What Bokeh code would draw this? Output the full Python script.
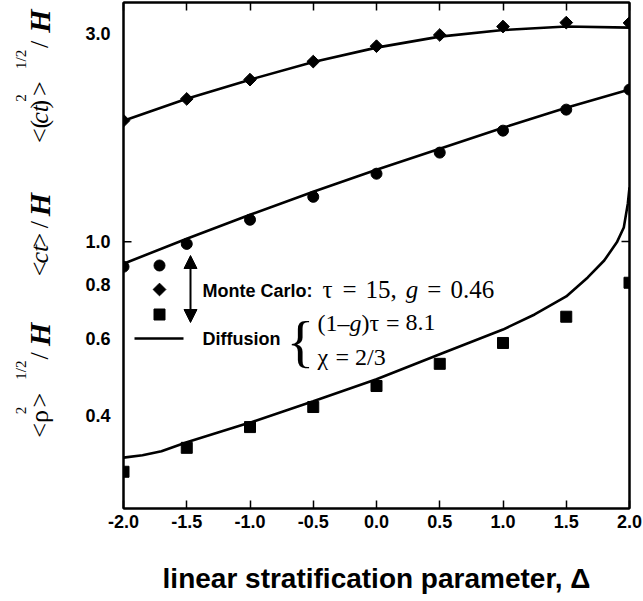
import math
from bokeh.plotting import figure
from bokeh.layouts import row
from bokeh.models import (Range1d, FixedTicker, LinearAxis, LogAxis, Label,
                          Arrow, NormalHead)
from bokeh.core.properties import value
from bokeh.embed import file_html
from bokeh.resources import INLINE

# ---------------- data ----------------
delta = [-2.0, -1.5, -1.0, -0.5, 0.0, 0.5, 1.0, 1.5, 2.0]
# Monte Carlo points
mc_ct2 = [1.892, 2.121, 2.348, 2.582, 2.80, 2.97, 3.105, 3.17, 3.165]
mc_ct = [0.877, 0.989, 1.123, 1.267, 1.431, 1.599, 1.795, 2.005, 2.228]
mc_rho = [0.298, 0.338, 0.377, 0.419, 0.468, 0.526, 0.587, 0.674, 0.806]
# Diffusion curves
diff_ct2 = [1.892, 2.124, 2.348, 2.575, 2.779, 2.945, 3.048, 3.105, 3.088]
diff_ct = [0.891, 1.016, 1.153, 1.301, 1.461, 1.632, 1.823, 2.026, 2.228]
diff_rho_x = [-2.0, -1.85, -1.7, -1.5, -1.0, -0.5, 0.0, 0.5, 1.0, 1.25, 1.5,
              1.67, 1.8, 1.9, 1.955, 1.987, 2.0]
diff_rho = [0.321, 0.325, 0.332, 0.348, 0.386, 0.432, 0.485, 0.553, 0.630,
            0.682, 0.750, 0.829, 0.906, 0.997, 1.078, 1.224, 1.331]

x_ticks = [-2.0, -1.5, -1.0, -0.5, 0.0, 0.5, 1.0, 1.5, 2.0]
x_tick_labels = ["-2.0", "-1.5", "-1.0", "-0.5", "0.0", "0.5", "1.0", "1.5", "2.0"]
y_ticks = [0.4, 0.6, 0.8, 1.0, 3.0]
y_tick_labels = ["0.4", "0.6", "0.8", "1.0", "3.0"]
x_title = "linear stratification parameter, \u0394"

# ---------------- geometry ----------------
W, H = 643, 601
SIDE = 60                      # width of the strip holding the y titles
FL, FR, FT, FB = 123, 629, 2, 508
X0, X1 = -2.0, 2.0
Y0, Y1 = 0.2456, 3.524
LY0, LY1 = math.log10(Y0), math.log10(Y1)


def X(px):
    return X0 + (px - FL) / (FR - FL) * (X1 - X0)


def Y(py):
    return 10 ** (LY1 - (py - FT) / (FB - FT) * (LY1 - LY0))


p = figure(width=W - SIDE, height=H, x_range=Range1d(X0, X1),
           y_range=Range1d(Y0, Y1), y_axis_type="log", output_backend="svg",
           toolbar_location=None, min_border_left=FL - SIDE,
           min_border_right=W - FR, min_border_top=FT,
           min_border_bottom=H - FB)
p.grid.visible = False
p.outline_line_color = "black"
p.outline_line_width = 2
p.background_fill_color = "white"
p.border_fill_color = "white"

TICK_FONT = "Liberation Sans"

xa = p.xaxis[0]
xa.ticker = FixedTicker(ticks=x_ticks, minor_ticks=[])
xa.major_label_overrides = {t: l for t, l in zip(x_ticks, x_tick_labels)}
xa.major_tick_in = 8
xa.major_tick_out = 0
xa.major_tick_line_width = 1.5
xa.axis_line_width = 2
xa.major_label_standoff = 6
xa.major_label_text_font = TICK_FONT
xa.major_label_text_font_style = "bold"
xa.major_label_text_font_size = "18px"
xa.major_label_text_color = "black"
xa.axis_label = x_title
xa.axis_label_text_font = TICK_FONT
xa.axis_label_text_font_style = "bold"
xa.axis_label_text_font_size = "28px"
xa.axis_label_standoff = 32
xa.axis_label_text_color = "black"

ya = p.yaxis[0]
ya.ticker = FixedTicker(ticks=y_ticks, minor_ticks=[])
ya.major_label_overrides = {t: l for t, l in zip(y_ticks, y_tick_labels)}
ya.major_tick_in = 0
ya.major_tick_out = 0
ya.axis_line_width = 2
ya.major_label_standoff = 13
ya.major_label_text_font = TICK_FONT
ya.major_label_text_font_style = "bold"
ya.major_label_text_font_size = "18px"
ya.major_label_text_color = "black"

top = LinearAxis(ticker=FixedTicker(ticks=x_ticks, minor_ticks=[]),
                 major_tick_in=8, major_tick_out=0, major_tick_line_width=1.5,
                 axis_line_width=2, major_label_text_font_size="1px",
                 major_label_text_alpha=0, major_label_standoff=0)
p.add_layout(top, "above")
right = LogAxis(ticker=FixedTicker(ticks=[1.0], minor_ticks=[]),
                major_tick_in=8, major_tick_out=0, major_tick_line_width=1.5,
                axis_line_width=2, major_label_text_font_size="1px",
                major_label_text_alpha=0, major_label_standoff=0)
p.add_layout(right, "right")
# inward tick at 1.0 on the left frame
p.segment(x0=[X(FL)], x1=[X(FL + 8)], y0=[1.0], y1=[1.0], line_color="black",
          line_width=1.5)

# ---------------- data marks ----------------
LW = 2.6
p.line(delta, diff_ct2, line_color="black", line_width=LW)
p.line(delta, diff_ct, line_color="black", line_width=LW)
p.line(diff_rho_x, diff_rho, line_color="black", line_width=LW)
p.scatter(delta, mc_ct2, marker="square", angle=math.pi / 4, size=9,
          color="black")
p.scatter(delta, mc_ct, marker="circle", size=11, color="black")
p.scatter(delta, mc_rho, marker="square", size=11, color="black")

# ---------------- legend (drawn) ----------------
p.scatter([X(159)], [Y(265)], marker="circle", size=11, color="black")
p.scatter([X(159)], [Y(289)], marker="square", angle=math.pi / 4, size=9,
          color="black")
p.scatter([X(159)], [Y(314)], marker="square", size=11, color="black")
p.line([X(134), X(183)], [Y(338), Y(338)], line_color="black", line_width=LW)
p.add_layout(Arrow(start=NormalHead(size=13, fill_color="black", line_color="black"),
                   end=NormalHead(size=13, fill_color="black", line_color="black"),
                   x_start=X(190), y_start=Y(322), x_end=X(190), y_end=Y(255),
                   line_color="black", line_width=2))

SERIF = "Liberation Serif"
EM = {'τ': 0.44, ' ': 0.25, '=': 0.564, '1': 0.5, '5': 0.5, ',': 0.25,
      'g': 0.5, '0': 0.5, '.': 0.25, '4': 0.5, '6': 0.5, '(': 0.333,
      ')': 0.333, '–': 0.5, '8': 0.5, 'χ': 0.5, '2': 0.5, '/': 0.278,
      '3': 0.5}


def tw(s, size, space=0.25):
    return sum((space if c == ' ' else EM.get(c, 0.5)) for c in s) * size


def hlabel(text, px, py, size, font=SERIF, style="normal"):
    p.add_layout(Label(x=X(px), y=Y(py), text=text, text_font=font,
                       text_font_size=f"{size}px", text_font_style=style,
                       text_align="left", text_baseline="middle",
                       text_color="black"))


def hrun(parts, px, py, size, space=0.25):
    for text, style in parts:
        for i, chunk in enumerate(text.split(" ")):
            if i > 0:
                px += space * size
            if chunk:
                hlabel(chunk, px, py, size, style=style)
                px += tw(chunk, size)


hlabel("Monte Carlo:", 202, 290, 18, font=TICK_FONT, style="bold")
hlabel("Diffusion", 202, 338, 18, font=TICK_FONT, style="bold")
hrun([("τ = 15, ", "normal"), ("g", "italic"), (" = 0.46", "normal")],
     322, 289, 25, space=0.36)
hrun([("(1–", "normal"), ("g", "italic"), (")τ = 8.1", "normal")], 317, 322, 24)
hrun([("χ = 2/3", "normal")], 317, 356, 24)
hlabel("{", 286, 341, 58)

# ---------------- rotated y titles (separate strip on the left) ----------------
q = figure(width=SIDE, height=H, x_range=Range1d(0, SIDE), y_range=Range1d(H, 0),
           output_backend="svg", toolbar_location=None, x_axis_location=None,
           y_axis_location=None, min_border=0)
q.grid.visible = False
q.outline_line_color = None
q.background_fill_color = "white"
q.border_fill_color = "white"


def vlabel(text, py, pxb, size, style="normal"):
    q.text(x=[pxb], y=[py], text=[text], angle=math.pi / 2,
           text_font=value(SERIF), text_font_size=value(f"{size}px"),
           text_font_style=value(style), text_align="left",
           text_baseline="alphabetic", text_color="black")


MB, SB, MS, SS, HS = 39, 20, 26, 15, 30
# <(ct)^2>^{1/2} / H
vlabel("<(", 167, MB, MS)
vlabel("ct", 144, MB, MS, "italic")
vlabel(")", 126, MB, MS)
vlabel("2", 118, SB, SS)
vlabel(">", 111, MB, MS)
vlabel("1/2", 79, SB, SS)
vlabel("/", 54, MB, MS)
vlabel("H", 36, MB, HS, "bold italic")
# <ct> / H
vlabel("<", 325, MB, MS)
vlabel("ct", 310, MB, MS, "italic")
vlabel(">", 291, MB, MS)
vlabel("/", 268, MB, MS)
vlabel("H", 254, MB, HS, "bold italic")
# <rho^2>^{1/2} / H
vlabel("<ρ", 517, MB, MS)
vlabel("2", 489, SB, SS)
vlabel(">", 481, MB, MS)
vlabel("1/2", 448, SB, SS)
vlabel("/", 424, MB, MS)
vlabel("H", 408, MB, HS, "bold italic")

layout = row(q, p, spacing=0)
open("out.html", "w").write(file_html(layout, INLINE))
